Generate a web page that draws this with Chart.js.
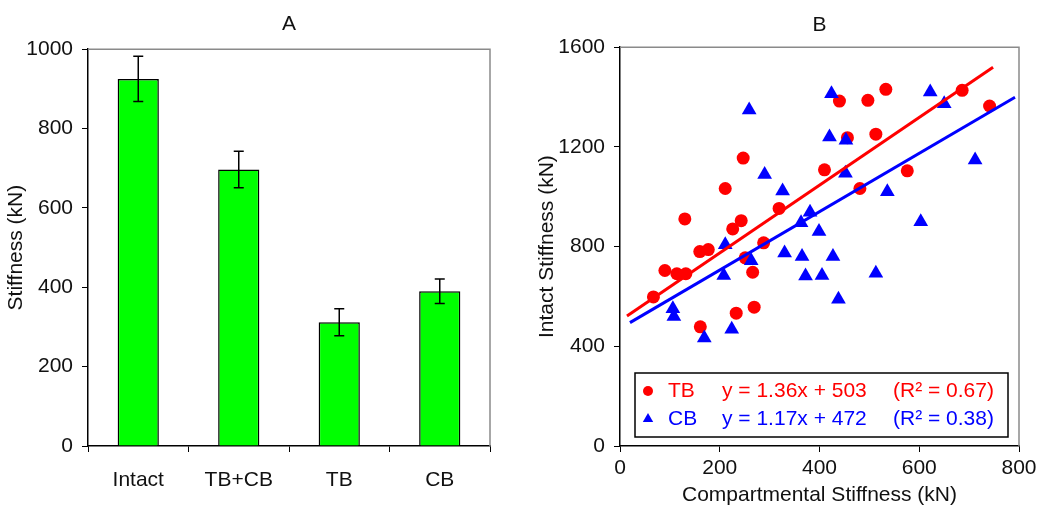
<!DOCTYPE html>
<html>
<head>
<meta charset="utf-8">
<script src="https://cdn.jsdelivr.net/npm/chart.js@4.4.1/dist/chart.umd.min.js"></script>
<style>
  html, body { margin: 0; padding: 0; background: #fff; }
  #wrap { position: relative; width: 1050px; height: 520px; }
  .panel { position: absolute; top: 0; height: 520px; }
</style>
</head>
<body>
<div id="wrap">
  <div class="panel" style="left:0;width:520px"><canvas id="bar-chart" width="520" height="520"></canvas></div>
  <div class="panel" style="left:520px;width:530px"><canvas id="scatter-chart" width="530" height="520"></canvas></div>
</div>
<script>
// panel A
const categories = ["Intact", "TB+CB", "TB", "CB"];
const stiffness = [925, 697, 312, 390];
const stiffnessErr = [57, 46, 34, 31];

// panel B
const tbX = [247, 211, 130, 243, 226, 319, 410, 160, 177, 288, 251, 266, 90, 114, 132, 67, 233, 269, 161, 440, 497, 533, 686, 741, 456, 513, 576, 481];
const tbY = [1155, 1033, 911, 904, 871, 953, 1108, 780, 788, 815, 755, 697, 704, 691, 691, 598, 533, 557, 478, 1384, 1387, 1431, 1427, 1364, 1237, 1251, 1104, 1033];
const cbX = [259, 290, 326, 381, 363, 211, 330, 365, 263, 208, 372, 405, 106, 108, 169, 224, 424, 622, 650, 420, 453, 452, 712, 536, 399, 603, 427, 513, 438];
const cbY = [1348, 1089, 1023, 938, 896, 807, 774, 760, 743, 684, 682, 684, 551, 520, 433, 468, 1413, 1420, 1373, 1240, 1227, 1094, 1147, 1020, 861, 900, 760, 693, 589];
const tbFitX = [14, 748];
const tbFitY = [522, 1520];
const cbFitX = [20, 792];
const cbFitY = [495, 1399];

const legendNames = ["TB", "CB"];
const legendEquations = ["y = 1.36x + 503", "y = 1.17x + 472"];
const legendR2 = ["(R\u00b2 = 0.67)", "(R\u00b2 = 0.38)"];

const RED = "#ff0000";
const BLUE = "#0000ff";

Chart.defaults.font.family = "'Liberation Sans', Arial, sans-serif";
Chart.defaults.font.size = 21;
Chart.defaults.color = "#111";

const toXY = (xs, ys) => xs.map((x, i) => ({x: x, y: ys[i]}));
const plain = v => String(v);

// gray top / right edge of the plot box
const frame = {
  id: "frame",
  afterDraw(chart) {
    const {ctx, chartArea: a} = chart;
    ctx.save();
    ctx.strokeStyle = "#8a8a8a";
    ctx.lineWidth = 1.5;
    ctx.beginPath();
    ctx.moveTo(a.left, a.top);
    ctx.lineTo(a.right, a.top);
    ctx.lineTo(a.right, a.bottom);
    ctx.stroke();
    ctx.restore();
  }
};

const errorBars = {
  id: "errorBars",
  afterDatasetsDraw(chart) {
    const ctx = chart.ctx;
    const yScale = chart.scales.y;
    const meta = chart.getDatasetMeta(0);
    ctx.save();
    ctx.strokeStyle = "#000";
    ctx.lineWidth = 1.5;
    meta.data.forEach((bar, i) => {
      const hi = yScale.getPixelForValue(stiffness[i] + stiffnessErr[i]);
      const lo = yScale.getPixelForValue(stiffness[i] - stiffnessErr[i]);
      ctx.beginPath();
      ctx.moveTo(bar.x, hi); ctx.lineTo(bar.x, lo);
      ctx.moveTo(bar.x - 5, hi); ctx.lineTo(bar.x + 5, hi);
      ctx.moveTo(bar.x - 5, lo); ctx.lineTo(bar.x + 5, lo);
      ctx.stroke();
    });
    ctx.restore();
  }
};

const fitLegend = {
  id: "fitLegend",
  afterDraw(chart) {
    const ctx = chart.ctx;
    const colors = [RED, BLUE];
    const styles = ["circle", "triangle"];
    const rows = [391, 419];
    ctx.save();
    ctx.fillStyle = "#fff";
    ctx.fillRect(115, 373, 373, 64);
    ctx.strokeStyle = "#000";
    ctx.lineWidth = 1.5;
    ctx.strokeRect(115, 373, 373, 64);
    ctx.font = "21px 'Liberation Sans', Arial, sans-serif";
    ctx.textBaseline = "middle";
    rows.forEach((y, i) => {
      ctx.fillStyle = colors[i];
      ctx.strokeStyle = colors[i];
      Chart.helpers.drawPoint(ctx, {pointStyle: styles[i], radius: i ? 6 : 5, borderWidth: 0}, 128, y);
      ctx.fillStyle = colors[i];
      ctx.fillText(legendNames[i], 148, y);
      ctx.fillText(legendEquations[i], 202, y);
      ctx.fillText(legendR2[i], 373, y);
    });
    ctx.restore();
  }
};

new Chart(document.getElementById("bar-chart"), {
  type: "bar",
  data: {
    labels: categories,
    datasets: [{
      data: stiffness,
      backgroundColor: "#00ff00",
      borderColor: "#000",
      borderWidth: 1.5,
      barPercentage: 0.41,
      categoryPercentage: 1
    }]
  },
  options: {
    responsive: false,
    animation: false,
    layout: {padding: {top: 0, right: 30, bottom: 0, left: 0}},
    plugins: {
      legend: {display: false},
      tooltip: {enabled: false},
      title: {
        display: true,
        text: "A",
        fullSize: false,
        font: {size: 21, weight: "normal"},
        color: "#111",
        padding: {top: 12, bottom: 12}
      }
    },
    scales: {
      x: {
        grid: {drawOnChartArea: false, tickLength: 6, color: "#000", offset: true},
        border: {color: "#000", width: 1.5},
        ticks: {padding: 16},
        afterFit(s) { s.height = 74; }
      },
      y: {
        min: 0,
        max: 1000,
        ticks: {stepSize: 200, padding: 9, callback: plain},
        grid: {drawOnChartArea: false, tickLength: 6, color: "#000"},
        border: {color: "#000", width: 1.5},
        title: {display: true, text: "Stiffness (kN)", padding: {top: 4, bottom: 0}},
        afterFit(s) { s.width = 88; }
      }
    }
  },
  plugins: [frame, errorBars]
});

new Chart(document.getElementById("scatter-chart"), {
  type: "scatter",
  data: {
    datasets: [
      {
        label: "TB fit",
        type: "line",
        data: toXY(tbFitX, tbFitY),
        borderColor: RED,
        borderWidth: 3,
        pointRadius: 0,
        order: 0
      },
      {
        label: "CB fit",
        type: "line",
        data: toXY(cbFitX, cbFitY),
        borderColor: BLUE,
        borderWidth: 3,
        pointRadius: 0,
        order: 0
      },
      {
        label: "CB",
        data: toXY(cbX, cbY),
        pointStyle: "triangle",
        pointRadius: 8.5,
        backgroundColor: BLUE,
        borderColor: BLUE,
        borderWidth: 0,
        order: 1
      },
      {
        label: "TB",
        data: toXY(tbX, tbY),
        pointStyle: "circle",
        pointRadius: 6.5,
        backgroundColor: RED,
        borderColor: RED,
        borderWidth: 0,
        order: 2
      }
    ]
  },
  options: {
    responsive: false,
    animation: false,
    layout: {padding: {top: 0, right: 31, bottom: 0, left: 0}},
    plugins: {
      legend: {display: false},
      tooltip: {enabled: false},
      title: {
        display: true,
        text: "B",
        fullSize: false,
        font: {size: 21, weight: "normal"},
        color: "#111",
        padding: {top: 13, bottom: 9}
      }
    },
    scales: {
      x: {
        type: "linear",
        min: 0,
        max: 800,
        ticks: {stepSize: 200, padding: 4, callback: plain},
        grid: {drawOnChartArea: false, tickLength: 6, color: "#000"},
        border: {color: "#000", width: 1.5},
        title: {display: true, text: "Compartmental Stiffness (kN)", padding: {top: 0, bottom: 12}},
        afterFit(s) { s.height = 74; }
      },
      y: {
        min: 0,
        max: 1600,
        ticks: {stepSize: 400, padding: 9, callback: plain},
        grid: {drawOnChartArea: false, tickLength: 6, color: "#000"},
        border: {color: "#000", width: 1.5},
        title: {display: true, text: "Intact Stiffness (kN)", padding: {top: 15, bottom: 0}},
        afterFit(s) { s.width = 100; }
      }
    }
  },
  plugins: [frame, fitLegend]
});
</script>
</body>
</html>
